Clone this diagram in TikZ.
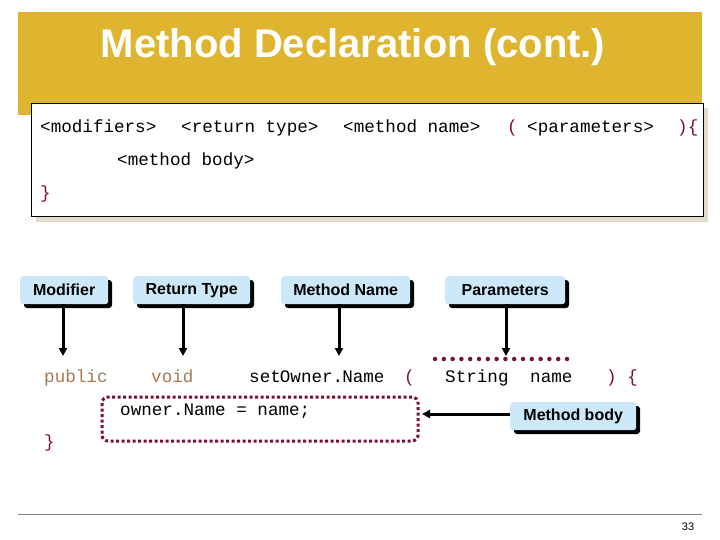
\documentclass[tikz,border=0pt]{standalone}
\usepackage{fontspec}
\setmainfont{Liberation Sans}
\newfontfamily\codefont{Liberation Mono}
\usetikzlibrary{arrows.meta}
\definecolor{gold}{HTML}{DFB52F}
\definecolor{maroon}{HTML}{7B1030}
\definecolor{tan}{HTML}{A87850}
\definecolor{callblue}{HTML}{CDE8F8}
\definecolor{beige}{HTML}{E2DACB}
\begin{document}
\begin{tikzpicture}[x=1pt,y=-1pt,
  code/.style={font=\codefont\fontsize{17.6}{18}\selectfont,anchor=base west,inner sep=0pt,yshift=-5.5pt},
  callout/.style={fill=callblue,rounded corners=3pt,font=\bfseries\fontsize{16}{18}\selectfont,inner sep=0pt,minimum height=28pt,anchor=north west},
  arr/.style={-{Triangle[length=8pt,width=8pt]},line width=3pt}]
\useasboundingbox (0,0) rectangle (720,540);
\fill[gold] (18,12) rectangle (702,115);
\node[text=white,font=\bfseries\fontsize{40}{44}\selectfont] (title) at (353,47) {Method Declaration (cont.)};
\fill[beige] (36,108) rectangle (708,222);
\draw[fill=white,line width=0.8pt] (31,103) rectangle (703,216);
\node[code] (m1) at (40,127) {<modifiers>};
\node[code] (m2) at (181,127) {<return type>};
\node[code] (m3) at (343,127) {<method name>};
\node[code,text=maroon] (m4) at (507,127) {(};
\node[code] (m5) at (527,127) {<parameters>};
\node[code,text=maroon] (m6) at (677,127) {)\{};
\node[code] (m7) at (117,160) {<method body>};
\node[code,text=maroon] (m8) at (40,193) {\}};
% callouts
\foreach \n/\x/\w/\t in {cm/20/88/Modifier,cr/133/117/Return Type,cn/281/129/Method Name,cp/445/120/Parameters}{
  \fill[black,rounded corners=3pt] (\x+4,280) rectangle (\x+\w+4,308);
  \node[callout,minimum width=\w pt] (\n) at (\x,276) {\t};
}
\fill[black,rounded corners=3pt] (514,406) rectangle (640,434);
\node[callout,minimum width=126pt] (cb) at (510,402) {Method body};
% code line
\node[code,text=tan] (pub) at (44,377) {public};
\node[code,text=tan] (vd) at (151,377) {void};
\node[code] (son) at (249,377) {set\kern-1ptOwner.\kern-1ptName};
\node[code,text=maroon] (lp) at (404,377) {(};
\node[code] (str) at (445,377) {String};
\node[code] (nm) at (530,377) {name};
\node[code,text=maroon] (rp) at (606,377) {) \{};
\node[code] (body) at (120,410) {owner.Name = name;};
\node[code,text=maroon] (cl) at (44,442) {\}};
\draw[maroon,line width=3pt,dash pattern=on 3pt off 2.5pt,rounded corners=6pt] (102,397) rectangle (418,441);
\draw[maroon,line width=4.5pt,line cap=round,dash pattern=on 0pt off 8.8pt] (435,359) -- (575,359);
\coordinate (tm) at (63,356);
\coordinate (tr) at (183,356);
\coordinate (tn) at (339,356);
\coordinate (tp) at (506,356);
\coordinate (tb) at (422,414);
\draw[arr] (cm.south -| tm) -- (tm);
\draw[arr] (cr.south -| tr) -- (tr);
\draw[arr] (cn.south -| tn) -- (tn);
\draw[arr] (cp.south -| tp) -- (tp);
\draw[arr] (cb.west |- tb) -- (tb);
\draw[gray,line width=1pt] (18,514) -- (702,514);
\node[font=\fontsize{11}{12}\selectfont] (pg) at (688,527) {33};
\end{tikzpicture}
\end{document}
